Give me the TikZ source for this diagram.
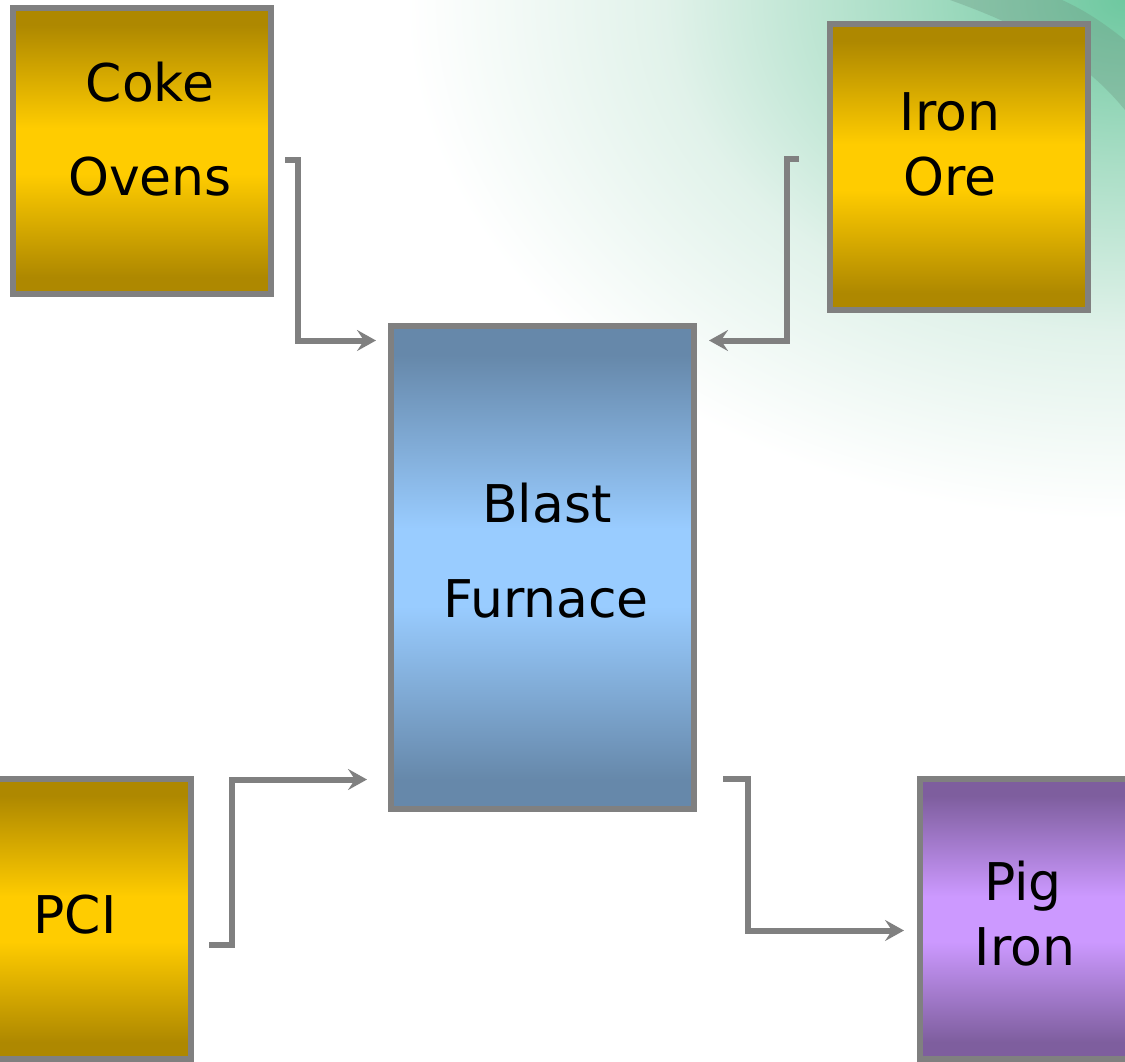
\documentclass[tikz,border=0pt]{standalone}
\usepackage{fontspec}
\setmainfont{DejaVu Sans}
\usetikzlibrary{arrows.meta}
\definecolor{golddk}{RGB}{174,136,0}
\definecolor{goldlt}{RGB}{255,204,0}
\definecolor{bluedk}{RGB}{102,136,170}
\definecolor{bluelt}{RGB}{153,204,255}
\definecolor{purpdk}{RGB}{126,94,158}
\definecolor{purplt}{RGB}{204,153,255}
\definecolor{linegray}{RGB}{128,128,128}
\definecolor{bggreen}{RGB}{110,200,160}
\definecolor{bgmid}{RGB}{170,222,198}
\definecolor{bglight}{RGB}{225,242,234}
\definecolor{streakc}{RGB}{110,150,130}
\pgfdeclareverticalshading{goldsh}{100bp}{color(0bp)=(golddk); color(25bp)=(golddk); color(28bp)=(golddk); color(46bp)=(goldlt); color(54bp)=(goldlt); color(72bp)=(golddk); color(75bp)=(golddk); color(100bp)=(golddk)}
\pgfdeclareverticalshading{bluesh}{100bp}{color(0bp)=(bluedk); color(25bp)=(bluedk); color(28bp)=(bluedk); color(46bp)=(bluelt); color(54bp)=(bluelt); color(72bp)=(bluedk); color(75bp)=(bluedk); color(100bp)=(bluedk)}
\pgfdeclareverticalshading{purpsh}{100bp}{color(0bp)=(purpdk); color(25bp)=(purpdk); color(28bp)=(purpdk); color(46bp)=(purplt); color(54bp)=(purplt); color(72bp)=(purpdk); color(75bp)=(purpdk); color(100bp)=(purpdk)}
\pgfdeclareradialshading{bgsh}{\pgfpoint{0bp}{0bp}}{color(0bp)=(bggreen); color(8bp)=(bgmid); color(16bp)=(bglight); color(25bp)=(white); color(50bp)=(white)}
\begin{document}
\begin{tikzpicture}[x=1pt,y=-1pt,
  box/.style={rectangle, draw=linegray, line width=6pt, inner sep=0pt, line join=miter},
  goldbox/.style={box, shading=goldsh},
  bluebox/.style={box, shading=bluesh},
  purpbox/.style={box, shading=purpsh},
  lbl/.style={font=\fontsize{52}{62}\selectfont, inner sep=0pt, anchor=base, text=black},
  conn/.style={draw=linegray, line width=6pt, line join=miter, -{Stealth[length=19pt,width=21pt,inset=7pt]}}]
\useasboundingbox (0,0) rectangle (1125,1062);
\begin{scope}
\clip (0,0) rectangle (1125,1062);
\fill[white] (0,0) rectangle (1125,1062);
\shade[shading=bgsh] (1125,0) ellipse [x radius=720, y radius=520];
\fill[streakc, opacity=0.35] (950,0) .. controls (1020,25) and (1080,55) .. (1125,110) -- (1125,40) .. controls (1100,20) and (1080,8) .. (1062,0) -- cycle;
% boxes
\node[goldbox, minimum width=258pt, minimum height=286pt] (coke) at (142,151) {};
\node[goldbox, minimum width=258pt, minimum height=286pt] (ore) at (959,167) {};
\node[bluebox, minimum width=303pt, minimum height=483pt] (bf) at (542.5,567.5) {};
\node[goldbox, minimum width=201.5pt, minimum height=280pt] (pci) at (90.5,919) {};
\node[purpbox, minimum width=220.5pt, minimum height=280pt] (pig) at (1030,919) {};
% labels
\node[lbl] (cokeA) at (150,102) {Coke};
\node[lbl] (cokeB) at (150,195) {Ovens};
\node[lbl] (oreA) at (950,131) {Iron};
\node[lbl] (oreB) at (950,195) {Ore};
\node[lbl] (bfA) at (547,522) {Blast};
\node[lbl] (bfB) at (546,617) {Furnace};
\node[lbl] (pciA) at (75,933) {PCI};
\node[lbl] (pigA) at (1023,900) {Pig};
\node[lbl] (pigB) at (1025,965) {Iron};
% connector ends
\coordinate (cokeOut) at (285,160);
\coordinate (bfInA) at (376,340.5);
\coordinate (oreOut) at (799,159.5);
\coordinate (bfInB) at (709,340.5);
\coordinate (pciOut) at (209,945);
\coordinate (bfInC) at (367,779.5);
\coordinate (bfOut) at (723,778.5);
\coordinate (pigIn) at (904,930.5);
% connectors
\draw[conn] (cokeOut) -- ++(13,0) |- (bfInA);
\draw[conn] (oreOut) -- ++(-12,0) |- (bfInB);
\draw[conn] (pciOut) -- ++(22.5,0) |- (bfInC);
\draw[conn] (bfOut) -- ++(25,0) |- (pigIn);
\end{scope}
\end{tikzpicture}
\end{document}
